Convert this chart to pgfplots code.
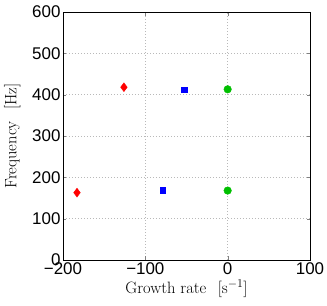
\documentclass[border=0pt]{standalone}
\usepackage{fontspec}
\usepackage{pgfplots}
\pgfplotsset{compat=1.18}
\newfontfamily\helv{Liberation Sans}
\definecolor{mgreen}{rgb}{0,0.75,0}
\begin{document}
\begin{tikzpicture}
\begin{axis}[
  scale only axis,
  width=247bp, height=248bp,
  xmin=-200, xmax=100, ymin=0, ymax=600,
  xtick={-200,-100,0,100},
  xticklabels={−200,−100,0,100},
  ytick={0,100,200,300,400,500,600},
  yticklabels={0,100,200,300,400,500,600},
  tick label style={font=\helv\fontsize{17}{19}\selectfont},
  yticklabel style={xshift=1bp},
  xticklabel style={yshift=1bp},
  tick align=inside,
  xtick pos=both, ytick pos=both,
  major tick length=3.5bp,
  grid=major,
  major grid style={gray!55, dash pattern=on 0.8bp off 2.2bp, line width=0.5pt},
  axis line style={line width=0.6pt},
  xlabel={Growth rate\hspace{0.7em}[s$^{-1}$]},
  ylabel={Frequency\hspace{0.7em}[Hz]},
  label style={font=\fontsize{16.5}{18}\selectfont},
  xlabel style={yshift=2bp},
  ylabel style={yshift=5bp},
]
\addplot[only marks, mark=diamond*, mark size=4.4bp, red, mark options={fill=red}]
  coordinates {(-183,163) (-126,418)};
\addplot[only marks, mark=square*, mark size=2.9bp, blue, mark options={fill=blue}]
  coordinates {(-79,169) (-53,412)};
\addplot[only marks, mark=*, mark size=3.8bp, mgreen, mark options={fill=mgreen, draw=mgreen}]
  coordinates {(0,168) (0,413)};
\end{axis}
\pgfresetboundingbox
\useasboundingbox (-63bp,-46bp) rectangle (264bp,260bp);
\end{tikzpicture}
\end{document}
